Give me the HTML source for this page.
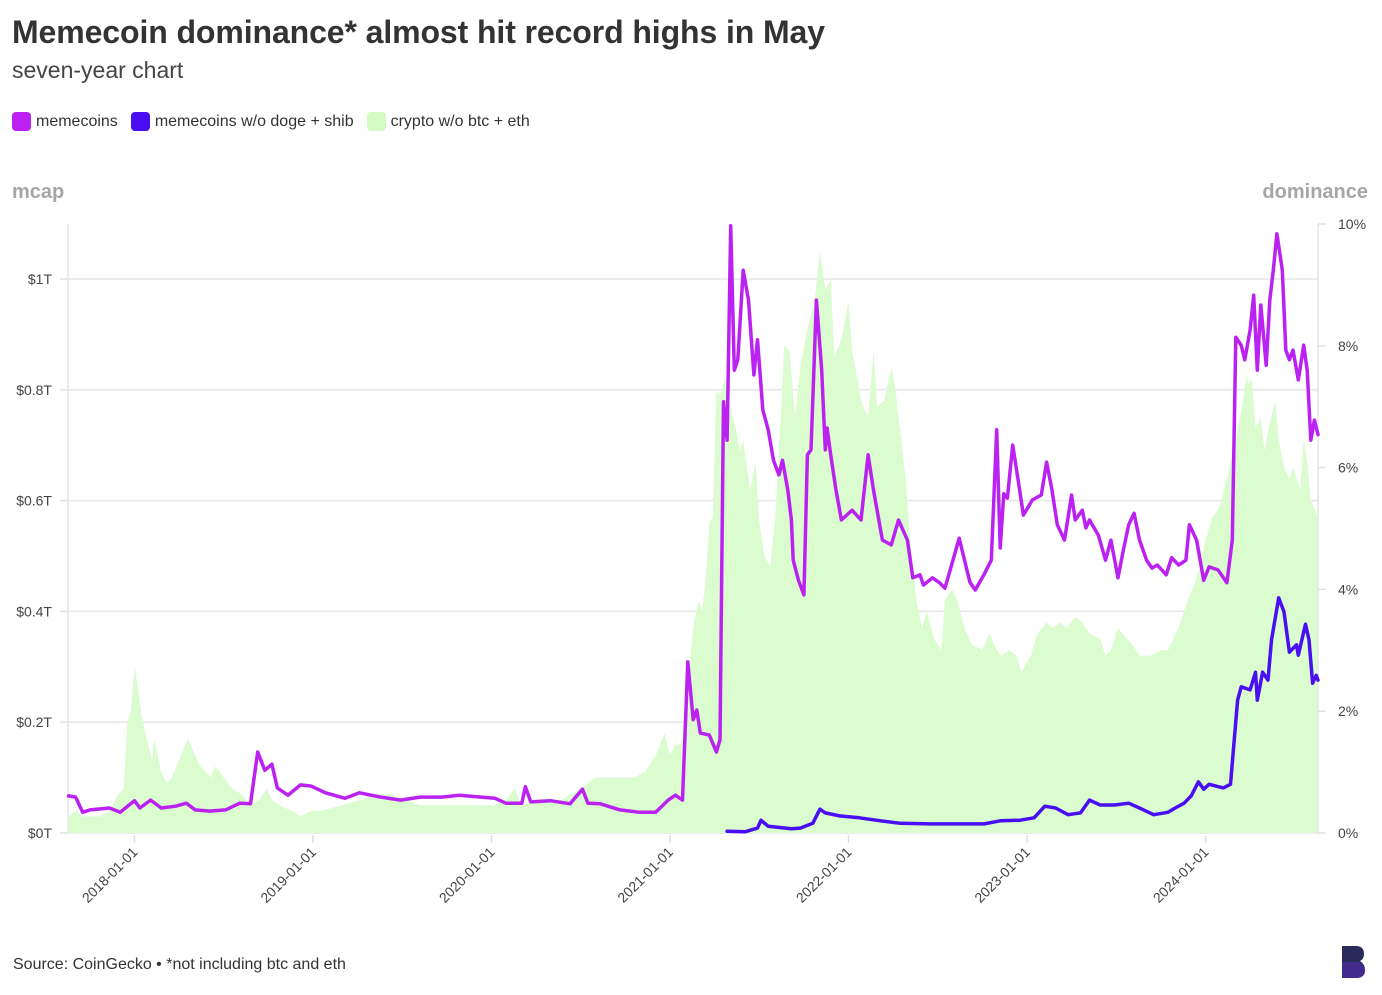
<!DOCTYPE html>
<html><head><meta charset="utf-8">
<style>
html,body{margin:0;padding:0;background:#fff;}
body{width:1382px;height:995px;position:relative;overflow:hidden;font-family:"Liberation Sans",sans-serif;color:#333;}
.t{position:absolute;white-space:nowrap;}
</style></head>
<body>
<div class="t" style="left:12px;top:14px;font-size:32px;font-weight:bold;color:#333;letter-spacing:-0.1px">Memecoin dominance* almost hit record highs in May</div>
<div class="t" style="left:12px;top:57px;font-size:23px;color:#444">seven-year chart</div>
<div style="position:absolute;left:12px;top:112px;font-size:16px;color:#333;display:flex;align-items:center">
  <span style="display:flex;align-items:center;margin-right:13px"><span style="width:19px;height:19px;border-radius:4px;background:#bb22f2;display:inline-block;margin-right:5px"></span>memecoins</span>
  <span style="display:flex;align-items:center;margin-right:13px"><span style="width:19px;height:19px;border-radius:4px;background:#4a0ef2;display:inline-block;margin-right:5px"></span>memecoins w/o doge + shib</span>
  <span style="display:flex;align-items:center"><span style="width:19px;height:19px;border-radius:4px;background:#d4fbc4;display:inline-block;margin-right:5px"></span>crypto w/o btc + eth</span>
</div>
<div class="t" style="left:12px;top:181px;font-size:20px;font-weight:bold;color:#a6a6a6">mcap</div>
<div class="t" style="right:14px;top:181px;font-size:20px;font-weight:bold;color:#a6a6a6">dominance</div>
<svg id="chart" width="1382" height="995" style="position:absolute;left:0;top:0"></svg>
<div class="t" style="left:13px;top:956px;font-size:16px;color:#333">Source: CoinGecko • *not including btc and eth</div>
<svg style="position:absolute;left:1342px;top:946px" width="24" height="32">
  <path d="M0 0 H14 Q22 0 22 8 Q22 13 18 15 Q23 18 23 24 Q23 32 14 32 H0 Z" fill="#2a2a5a"/>
  <path d="M0 16 H14 Q23 16 23 24 Q23 32 14 32 H0 Z" fill="#4a2a9a" opacity="0.8"/>
</svg>
<script>
const tickYearsX = ["2018-01-01","2019-01-01","2020-01-01","2021-01-01","2022-01-01","2023-01-01","2024-01-01"];
const leftTicks = [0,0.2,0.4,0.6,0.8,1];
const leftTickLabels = ["$0T","$0.2T","$0.4T","$0.6T","$0.8T","$1T"];
const rightTicks = [0,2,4,6,8,10];
const rightTickLabels = ["0%","2%","4%","6%","8%","10%"];

const memeT = [2017.63,2017.67,2017.71,2017.75,2017.86,2017.92,2017.97,2018.0,2018.03,2018.09,2018.15,2018.23,2018.29,2018.34,2018.42,2018.51,2018.59,2018.65,2018.69,2018.73,2018.77,2018.80,2018.86,2018.93,2018.99,2019.07,2019.18,2019.26,2019.38,2019.49,2019.60,2019.72,2019.82,2019.94,2020.02,2020.08,2020.17,2020.19,2020.22,2020.33,2020.44,2020.51,2020.54,2020.61,2020.72,2020.83,2020.92,2020.99,2021.03,2021.07,2021.10,2021.13,2021.15,2021.17,2021.22,2021.26,2021.28,2021.30,2021.32,2021.34,2021.36,2021.38,2021.41,2021.44,2021.47,2021.49,2021.52,2021.55,2021.58,2021.61,2021.63,2021.66,2021.68,2021.69,2021.72,2021.75,2021.77,2021.79,2021.82,2021.85,2021.87,2021.88,2021.90,2021.93,2021.96,2022.02,2022.07,2022.11,2022.14,2022.19,2022.24,2022.28,2022.33,2022.36,2022.40,2022.42,2022.47,2022.51,2022.54,2022.57,2022.62,2022.65,2022.68,2022.71,2022.76,2022.80,2022.83,2022.85,2022.87,2022.89,2022.92,2022.95,2022.98,2023.03,2023.08,2023.11,2023.14,2023.17,2023.21,2023.25,2023.27,2023.31,2023.33,2023.35,2023.40,2023.44,2023.47,2023.51,2023.54,2023.57,2023.60,2023.63,2023.67,2023.70,2023.73,2023.78,2023.81,2023.85,2023.89,2023.91,2023.95,2023.99,2024.02,2024.07,2024.12,2024.15,2024.17,2024.20,2024.22,2024.25,2024.27,2024.29,2024.31,2024.34,2024.36,2024.38,2024.40,2024.43,2024.45,2024.47,2024.49,2024.52,2024.55,2024.57,2024.59,2024.61,2024.63];
const memePct = [0.61,0.59,0.34,0.38,0.41,0.34,0.46,0.53,0.41,0.54,0.41,0.44,0.49,0.38,0.36,0.38,0.49,0.48,1.33,1.03,1.13,0.74,0.62,0.79,0.77,0.66,0.57,0.66,0.59,0.54,0.59,0.59,0.62,0.59,0.57,0.49,0.49,0.76,0.51,0.53,0.48,0.72,0.49,0.48,0.38,0.34,0.34,0.54,0.62,0.54,2.81,1.86,2.02,1.64,1.61,1.33,1.53,7.08,6.45,9.97,7.60,7.77,9.24,8.75,7.52,8.10,6.95,6.62,6.12,5.88,6.12,5.63,5.14,4.48,4.15,3.91,6.21,6.29,8.75,7.60,6.29,6.65,6.21,5.63,5.14,5.30,5.14,6.21,5.63,4.81,4.73,5.14,4.81,4.19,4.24,4.07,4.19,4.11,4.02,4.32,4.84,4.48,4.12,3.99,4.25,4.48,6.62,4.68,5.57,5.50,6.37,5.80,5.22,5.47,5.55,6.09,5.63,5.06,4.81,5.55,5.14,5.30,5.01,5.14,4.89,4.48,4.81,4.19,4.65,5.06,5.25,4.81,4.48,4.35,4.40,4.24,4.52,4.40,4.48,5.06,4.81,4.15,4.37,4.32,4.11,4.81,8.14,8.01,7.77,8.26,8.83,7.60,8.67,7.68,8.75,9.24,9.84,9.24,7.93,7.77,7.93,7.44,8.01,7.60,6.45,6.78,6.54];

const smallT = [2021.32,2021.42,2021.49,2021.51,2021.55,2021.68,2021.73,2021.80,2021.84,2021.87,2021.95,2022.06,2022.18,2022.29,2022.46,2022.63,2022.76,2022.85,2022.96,2023.04,2023.10,2023.16,2023.23,2023.30,2023.35,2023.41,2023.49,2023.57,2023.63,2023.71,2023.79,2023.83,2023.88,2023.92,2023.96,2023.99,2024.02,2024.10,2024.14,2024.18,2024.20,2024.25,2024.28,2024.29,2024.32,2024.35,2024.37,2024.41,2024.44,2024.47,2024.51,2024.52,2024.56,2024.58,2024.60,2024.62,2024.63];
const smallPct = [0.03,0.02,0.08,0.21,0.11,0.07,0.08,0.16,0.39,0.33,0.28,0.25,0.20,0.16,0.15,0.15,0.15,0.20,0.21,0.25,0.44,0.41,0.30,0.33,0.54,0.46,0.46,0.49,0.41,0.30,0.34,0.41,0.49,0.61,0.84,0.72,0.80,0.74,0.80,2.18,2.40,2.35,2.64,2.18,2.64,2.51,3.17,3.86,3.63,2.97,3.09,2.92,3.43,3.17,2.46,2.59,2.51];

const mcapT = [2017.63,2017.67,2017.71,2017.81,2017.86,2017.91,2017.94,2017.96,2017.98,2018.00,2018.02,2018.04,2018.07,2018.10,2018.11,2018.13,2018.15,2018.18,2018.21,2018.26,2018.30,2018.34,2018.37,2018.40,2018.43,2018.45,2018.48,2018.52,2018.55,2018.60,2018.65,2018.70,2018.74,2018.77,2018.81,2018.88,2018.93,2018.99,2019.05,2019.16,2019.27,2019.35,2019.43,2019.52,2019.60,2019.72,2019.82,2019.94,2020.02,2020.08,2020.13,2020.17,2020.28,2020.39,2020.50,2020.58,2020.64,2020.72,2020.80,2020.86,2020.92,2020.97,2021.00,2021.03,2021.06,2021.09,2021.13,2021.16,2021.18,2021.20,2021.22,2021.24,2021.26,2021.28,2021.31,2021.33,2021.35,2021.37,2021.39,2021.41,2021.43,2021.45,2021.48,2021.50,2021.53,2021.56,2021.59,2021.62,2021.64,2021.67,2021.70,2021.73,2021.77,2021.81,2021.84,2021.87,2021.90,2021.92,2021.96,2022.00,2022.02,2022.05,2022.07,2022.11,2022.14,2022.16,2022.20,2022.24,2022.26,2022.28,2022.32,2022.34,2022.38,2022.41,2022.44,2022.48,2022.52,2022.54,2022.58,2022.61,2022.65,2022.69,2022.75,2022.79,2022.83,2022.86,2022.90,2022.94,2022.97,2023.02,2023.06,2023.11,2023.14,2023.19,2023.22,2023.27,2023.31,2023.35,2023.41,2023.44,2023.47,2023.51,2023.56,2023.59,2023.63,2023.69,2023.75,2023.79,2023.82,2023.86,2023.90,2023.94,2023.97,2024.00,2024.04,2024.08,2024.12,2024.14,2024.17,2024.21,2024.23,2024.24,2024.26,2024.28,2024.31,2024.33,2024.36,2024.39,2024.41,2024.44,2024.47,2024.49,2024.53,2024.55,2024.57,2024.59,2024.63];
const mcapVal = [0.03,0.04,0.03,0.03,0.04,0.07,0.08,0.20,0.22,0.30,0.26,0.21,0.17,0.13,0.17,0.14,0.11,0.09,0.10,0.14,0.17,0.14,0.12,0.11,0.10,0.12,0.11,0.09,0.08,0.07,0.05,0.06,0.08,0.06,0.05,0.04,0.03,0.04,0.04,0.05,0.06,0.07,0.07,0.06,0.05,0.05,0.05,0.05,0.05,0.06,0.08,0.05,0.06,0.06,0.08,0.10,0.10,0.10,0.10,0.11,0.14,0.18,0.14,0.16,0.16,0.24,0.37,0.42,0.40,0.46,0.56,0.57,0.80,0.79,0.82,0.78,0.75,0.73,0.69,0.71,0.66,0.62,0.67,0.56,0.50,0.48,0.57,0.75,0.88,0.87,0.75,0.84,0.91,0.96,1.05,0.98,1.00,0.86,0.89,0.96,0.87,0.82,0.78,0.75,0.87,0.77,0.78,0.84,0.81,0.75,0.64,0.55,0.42,0.37,0.40,0.35,0.33,0.42,0.44,0.42,0.37,0.34,0.33,0.36,0.33,0.32,0.33,0.32,0.29,0.32,0.36,0.38,0.37,0.38,0.37,0.39,0.38,0.36,0.35,0.32,0.33,0.37,0.35,0.34,0.32,0.32,0.33,0.33,0.35,0.38,0.42,0.45,0.48,0.53,0.57,0.59,0.64,0.67,0.71,0.78,0.83,0.81,0.82,0.73,0.75,0.69,0.74,0.78,0.71,0.66,0.64,0.66,0.62,0.71,0.67,0.60,0.57];

const NS = "http://www.w3.org/2000/svg";
const svg = document.getElementById('chart');
const X0 = 68, X1 = 1318, Y0 = 833, YTOP = 224;
function decYear(s){const [y,m,d]=s.split('-').map(Number);return y+((m-1)*30.44+(d-1))/365.25;}
function xs(t){return 670 + (t-2021)*178.5;}
function yL(v){return Y0 - v*554;}
function yR(p){return Y0 - p*(Y0-YTOP)/10;}
function mk(tag,attrs){const e=document.createElementNS(NS,tag);for(const k in attrs)e.setAttribute(k,attrs[k]);svg.appendChild(e);return e;}

leftTicks.forEach((v,i)=>{
  const y=yL(v);
  const g=mk('line',{x1:X0,x2:X1,y1:y,y2:y,stroke:'#e6e6e6','stroke-width':1.5});
  
  
  const tk=mk('line',{x1:X0-8,x2:X0,y1:y,y2:y,stroke:'#e0e0e0','stroke-width':1.5});
  
  
  const tx=mk('text',{x:52,y:y+5,'text-anchor':'end','font-size':14,fill:'#444','font-family':'Liberation Sans, sans-serif'});
  tx.textContent=leftTickLabels[i];
  
  
});
const la=mk('line',{x1:X0,x2:X0,y1:YTOP,y2:Y0,stroke:'#e6e6e6','stroke-width':1.5});



let d='M'+xs(mcapT[0])+','+Y0;
mcapT.forEach((t,i)=>{d+=' L'+xs(t).toFixed(1)+','+yL(mcapVal[i]).toFixed(1);});
d+=' L'+xs(mcapT[mcapT.length-1])+','+Y0+' Z';
const area=mk('path',{d:d,fill:'#dafccf'});



const ra=mk('line',{x1:X1,x2:X1,y1:YTOP,y2:Y0,stroke:'#e6e6e6','stroke-width':1.5});


rightTicks.forEach((p,i)=>{
  const y=yR(p);
  const tk=mk('line',{x1:X1,x2:X1+8,y1:y,y2:y,stroke:'#e0e0e0','stroke-width':1.5});
  
  
  const tx=mk('text',{x:1338,y:y+5,'font-size':14,fill:'#444','font-family':'Liberation Sans, sans-serif'});
  tx.textContent=rightTickLabels[i];
  
  
});

tickYearsX.forEach(s=>{
  const x=xs(decYear(s));
  const tk=mk('line',{x1:x,x2:x,y1:Y0+2,y2:Y0+10,stroke:'#e0e0e0','stroke-width':1.5});
  
  
  const tx=mk('text',{x:x+4,y:Y0+20,'text-anchor':'end','font-size':14,fill:'#444','font-family':'Liberation Sans, sans-serif',transform:'rotate(-45 '+(x+4)+' '+(Y0+20)+')'});
  tx.textContent=s;
  
  
});

function line(T,V,color,name){
  let p='';
  T.forEach((t,i)=>{p+=(i?' L':'M')+xs(t).toFixed(1)+','+yR(V[i]).toFixed(1);});
  const e=mk('path',{d:p,fill:'none',stroke:color,'stroke-width':3.5,'stroke-linejoin':'round','stroke-linecap':'round'});
  
  
}
line(memeT,memePct,'#bb22f2','memecoins-line');
line(smallT,smallPct,'#4a0ef2','memecoins-wo-doge-shib-line');
</script>
</body></html>
